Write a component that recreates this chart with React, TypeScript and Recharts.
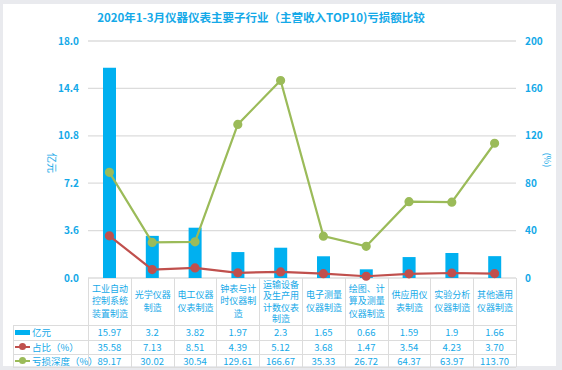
import React from 'react';
import { ComposedChart, Bar, Line, XAxis, YAxis, CartesianGrid } from 'recharts';

const categories = [
  '工业自动控制系统装置制造',
  '光学仪器制造',
  '电工仪器仪表制造',
  '钟表与计时仪器制造',
  '运输设备及生产用计数仪表制造',
  '电子测量仪器制造',
  '绘图、计算及测量仪器制造',
  '供应用仪表制造',
  '实验分析仪器制造',
  '其他通用仪器制造',
];
const revenue = [15.97, 3.2, 3.82, 1.97, 2.3, 1.65, 0.66, 1.59, 1.9, 1.66];
const share = [35.58, 7.13, 8.51, 4.39, 5.12, 3.68, 1.47, 3.54, 4.23, 3.7];
const lossDepth = [89.17, 30.02, 30.54, 129.61, 166.67, 35.33, 26.72, 64.37, 63.97, 113.7];
const leftTicks = [0, 3.6, 7.2, 10.8, 14.4, 18];
const rightTicks = [0, 40, 80, 120, 160, 200];
const title = '2020年1-3月仪器仪表主要子行业（主营收入TOP10)亏损额比较';
const seriesNames = ['亿元', '占比（%）', '亏损深度（%）'];

const data = categories.map((c, i) => ({
  name: c,
  revenue: revenue[i],
  share: share[i],
  loss: lossDepth[i],
}));

const BLUE = '#00B0F0';
const RED = '#C0504D';
const GREEN = '#9BBB59';
const TXT = '#14A9E8';
const GRID = '#DCDCDC';
const FONT = '"Noto Sans CJK SC", "Noto Sans", sans-serif';

const PLOT_L = 88;
const PLOT_R = 516;
const PLOT_T = 41;
const PLOT_B = 278;
const COLW = (PLOT_R - PLOT_L) / categories.length;

function wrap4(s: string): string[] {
  const out: string[] = [];
  for (let i = 0; i < s.length; i += 4) out.push(s.slice(i, i + 4));
  return out;
}

export default function App() {
  const rows = [
    { name: seriesNames[0], vals: revenue.map((v) => String(v)), kind: 'bar', color: BLUE },
    { name: seriesNames[1], vals: share.map((v) => v.toFixed(2)), kind: 'line', color: RED },
    { name: seriesNames[2], vals: lossDepth.map((v) => v.toFixed(2)), kind: 'line', color: GREEN },
  ];
  const rowTops = [325, 339.5, 353.5];
  const rowH = 14;
  return (
    <div style={{ position: 'fixed', left: 0, top: 0, width: 562, height: 370, background: '#E9EAEE', fontFamily: FONT, overflow: 'hidden' }}>
      <div style={{ position: 'absolute', left: 3, top: 4, width: 553, height: 362, background: '#fff' }} />
      <div style={{ position: 'absolute', left: 261, top: 9, transform: 'translateX(-50%)', color: TXT, fontSize: 11.5, fontWeight: 600, whiteSpace: 'nowrap', lineHeight: '16px' }}>{title}</div>
      <div style={{ position: 'absolute', left: 0, top: 0 }}>
        <ComposedChart
          width={562}
          height={370}
          data={data}
          margin={{ top: PLOT_T, bottom: 370 - PLOT_B, left: 0, right: 0 }}
          barSize={13}
        >
          <CartesianGrid yAxisId="left" vertical={false} stroke={GRID} strokeWidth={1.3} />
          <XAxis dataKey="name" hide />
          <YAxis
            yAxisId="left"
            width={PLOT_L}
            domain={[0, 18]}
            ticks={leftTicks}
            tickFormatter={(v: number) => v.toFixed(1)}
            axisLine={false}
            tickLine={false}
            tickSize={0}
            tickMargin={9}
            tick={{ fill: TXT, fontSize: 10, fontFamily: FONT, fontWeight: 600 }}
          />
          <YAxis
            yAxisId="right"
            orientation="right"
            width={562 - PLOT_R}
            domain={[0, 200]}
            ticks={rightTicks}
            axisLine={false}
            tickLine={false}
            tickSize={0}
            tickMargin={9}
            tick={{ fill: TXT, fontSize: 10, fontFamily: FONT, textAnchor: 'start', fontWeight: 600 }}
          />
          <Bar yAxisId="left" dataKey="revenue" fill={BLUE} isAnimationActive={false} />
          <Line yAxisId="right" dataKey="share" stroke={RED} strokeWidth={2.2} dot={{ r: 3.5, fill: RED, stroke: RED }} isAnimationActive={false} />
          <Line yAxisId="right" dataKey="loss" stroke={GREEN} strokeWidth={2.2} dot={{ r: 3.5, fill: GREEN, stroke: GREEN }} isAnimationActive={false} />
        </ComposedChart>
      </div>
      <div style={{ position: 'absolute', left: 52, top: 163, transform: 'translate(-50%,-50%) rotate(90deg)', color: TXT, fontSize: 10, whiteSpace: 'nowrap' }}>亿元</div>
      <div style={{ position: 'absolute', left: 547, top: 160, transform: 'translate(-50%,-50%) rotate(90deg)', color: TXT, fontSize: 9, whiteSpace: 'nowrap' }}>(%)</div>
      {categories.map((c, i) => {
        const lines = wrap4(c);
        const lh = lines.length > 3 ? 11.5 : 12.5;
        return (
          <div
            key={'cat' + i}
            style={{
              position: 'absolute',
              left: PLOT_L + i * COLW,
              top: PLOT_B,
              width: COLW,
              height: 325 - PLOT_B,
              borderLeft: `1px solid ${GRID}`,
              boxSizing: 'border-box',
              display: 'flex',
              flexDirection: 'column',
              alignItems: 'center',
              justifyContent: 'center',
              color: TXT,
              fontSize: 9,
              lineHeight: lh + 'px',
            }}
          >
            {lines.map((l, k) => (
              <div key={k} style={{ height: lh }}>{l}</div>
            ))}
          </div>
        );
      })}
      <div style={{ position: 'absolute', left: PLOT_R, top: PLOT_B, width: 1, height: 367 - PLOT_B, background: GRID }} />
      {categories.map((c, i) => (
        <div key={'vl' + i} style={{ position: 'absolute', left: PLOT_L + i * COLW, top: 325, width: 1, height: 42, background: GRID }} />
      ))}
      <div style={{ position: 'absolute', left: 13, top: 325, width: 1, height: 42, background: GRID }} />
      {[325, 339.5, 353.5, 367].map((y, k) => (
        <div key={'hl' + k} style={{ position: 'absolute', left: 13, top: y, width: PLOT_R - 13, height: 1, background: GRID }} />
      ))}
      {rows.map((r, ri) => (
        <React.Fragment key={'row' + ri}>
          <div style={{ position: 'absolute', left: 15, top: rowTops[ri], height: rowH, display: 'flex', alignItems: 'center', color: TXT, fontSize: 9.5, whiteSpace: 'nowrap' }}>
            {r.kind === 'bar' ? (
              <span style={{ display: 'inline-block', width: 15, height: 5, background: r.color, marginRight: 2 }} />
            ) : (
              <span style={{ position: 'relative', display: 'inline-block', width: 15, height: 7, marginRight: 2 }}>
                <span style={{ position: 'absolute', left: 0, top: 2.5, width: 15, height: 2, background: r.color }} />
                <span style={{ position: 'absolute', left: 4, top: 0, width: 7, height: 7, borderRadius: '50%', background: r.color }} />
              </span>
            )}
            {r.name}
          </div>
          {r.vals.map((v, i) => (
            <div
              key={i}
              style={{
                position: 'absolute',
                left: PLOT_L + i * COLW,
                top: rowTops[ri],
                width: COLW,
                height: rowH,
                display: 'flex',
                alignItems: 'center',
                justifyContent: 'center',
                color: TXT,
                fontSize: 9.5,
              }}
            >
              {v}
            </div>
          ))}
        </React.Fragment>
      ))}
    </div>
  );
}
